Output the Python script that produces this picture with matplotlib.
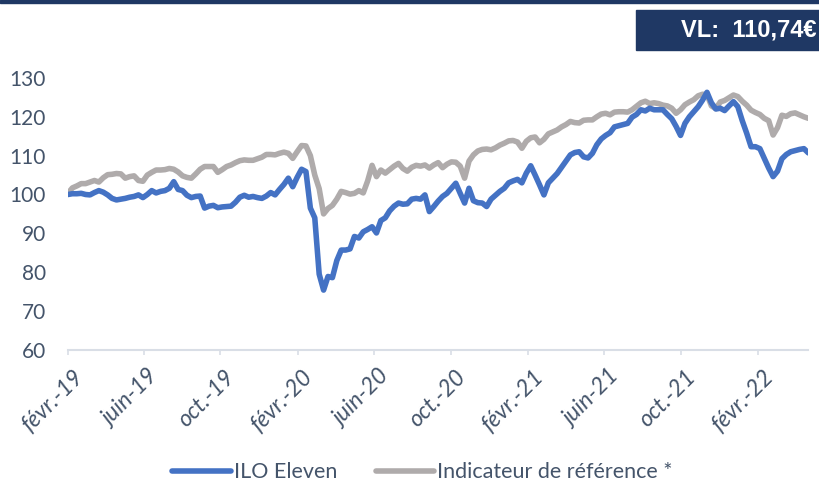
import numpy as np
import pandas as pd
import matplotlib
matplotlib.use("Agg")
import matplotlib.pyplot as plt
import matplotlib.transforms as mtransforms

plt.rcParams['font.family'] = ['Lato', 'DejaVu Sans']

# weekly NAV (base 100)
dates = pd.date_range("2019-02-01", periods=169, freq="7D")

ilo_eleven = [
    100.0, 100.2, 100.2, 100.3, 100.0, 99.9, 100.5, 101.0, 100.6, 99.9,
    99.0, 98.6, 98.8, 99.0, 99.3, 99.5, 99.9, 99.2, 100.0, 101.0,
    100.4, 100.8, 101.0, 101.6, 103.3, 101.3, 101.0, 99.8, 99.2, 99.5,
    99.6, 96.5, 97.0, 97.2, 96.6, 96.8, 96.9, 97.0, 98.0, 99.3,
    99.8, 99.3, 99.5, 99.2, 99.0, 99.6, 100.5, 99.9, 101.3, 102.6,
    104.2, 102.0, 104.4, 106.5, 105.9, 96.5, 94.0, 79.5, 75.4, 78.9,
    78.6, 83.0, 85.7, 85.7, 86.0, 89.2, 88.8, 90.4, 91.0, 91.7,
    90.1, 93.3, 94.0, 95.8, 97.0, 97.8, 97.5, 97.6, 98.8, 99.0,
    98.8, 99.9, 95.6, 96.9, 98.3, 99.5, 100.3, 101.6, 102.9, 100.3,
    97.8, 101.6, 98.4, 97.9, 97.8, 96.9, 98.8, 99.8, 100.8, 101.6,
    103.0, 103.5, 103.9, 103.0, 105.5, 107.4, 105.0, 102.5, 99.9, 103.0,
    104.2, 105.4, 107.0, 108.6, 110.2, 110.8, 111.0, 109.7, 109.4, 110.6,
    112.8, 114.3, 115.2, 115.9, 117.4, 117.7, 118.0, 118.3, 119.9, 120.6,
    121.8, 121.5, 122.2, 121.8, 121.8, 121.8, 120.6, 119.5, 117.5, 115.2,
    118.3, 120.0, 121.3, 122.6, 124.3, 126.3, 123.6, 122.0, 122.2, 121.6,
    122.8, 123.9, 122.6, 119.0, 115.8, 112.3, 112.3, 111.8, 109.3, 106.8,
    104.6, 106.0, 109.2, 110.3, 111.0, 111.3, 111.6, 111.8, 110.7,
]

indicateur = [
    100.3, 101.7, 102.2, 102.8, 102.8, 103.2, 103.6, 103.2, 104.3, 105.1,
    105.2, 105.4, 105.3, 104.2, 104.6, 104.8, 103.6, 103.4, 105.0, 105.7,
    106.3, 106.3, 106.4, 106.7, 106.5, 105.8, 104.8, 104.4, 104.2, 105.3,
    106.5, 107.2, 107.2, 107.2, 105.7, 106.4, 107.2, 107.6, 108.2, 108.7,
    108.9, 108.8, 108.8, 109.2, 109.6, 110.3, 110.3, 110.2, 110.6, 110.9,
    110.6, 109.3, 111.0, 112.6, 112.5, 110.0, 105.0, 101.5, 95.0, 96.4,
    97.2, 98.8, 100.8, 100.5, 100.1, 100.3, 101.0, 100.4, 103.5, 107.5,
    104.6, 106.3, 105.5, 106.4, 107.3, 108.0, 106.7, 106.0, 107.0, 107.5,
    107.3, 107.6, 106.8, 107.6, 108.2, 106.9, 107.8, 108.4, 108.3, 107.3,
    104.2, 108.6, 110.2, 111.2, 111.6, 111.7, 111.5, 112.0, 112.7, 113.2,
    113.8, 113.9, 113.5, 111.9, 113.7, 114.6, 114.8, 113.3, 114.2, 115.6,
    116.1, 116.6, 117.4, 118.0, 118.8, 118.5, 118.4, 119.1, 119.2, 119.2,
    120.0, 120.7, 120.9, 120.5, 121.2, 121.3, 121.3, 121.2, 121.8, 122.7,
    123.6, 124.0, 123.4, 123.6, 123.4, 123.0, 122.8, 122.2, 120.9, 121.8,
    123.1, 123.8, 124.4, 125.4, 125.8, 125.7, 122.8, 122.1, 123.8, 124.2,
    124.9, 125.6, 125.2, 124.0, 123.0, 121.7, 121.1, 120.6, 119.6, 119.0,
    115.3, 117.2, 120.4, 120.1, 120.8, 121.0, 120.5, 120.0, 119.6,
]

tick_dates = pd.date_range("2019-02-01", "2022-02-01", freq="4MS")
mois = {2: "févr.", 6: "juin", 10: "oct."}
tick_labels = [f"{mois[d.month]}-{d.strftime('%y')}" for d in tick_dates]

vl_text = "VL:  110,74€"

navy = "#1F3864"
label_col = "#44546A"

fig = plt.figure(figsize=(8.19, 4.84), dpi=100)
ax = fig.add_axes([0.083, 0.277, 0.904, 0.562])

ax.plot(dates, ilo_eleven, color="#4472C4", lw=4.0, label="ILO Eleven",
        solid_capstyle="round", zorder=3)
ax.plot(dates, indicateur, color="#AFABAB", lw=4.0, label="Indicateur de référence *",
        solid_capstyle="round", zorder=2)

ax.set_ylim(60, 130)
ax.set_yticks(range(60, 131, 10))
ax.set_xlim(dates[0], dates[-1])
ax.set_xticks(tick_dates)
ax.set_xticklabels(tick_labels, rotation=45, ha="right", rotation_mode="anchor",
                   fontstyle="italic", fontsize=16.5, color=label_col)
ax.tick_params(axis="y", length=0, labelsize=15, labelcolor=label_col, pad=16)
ax.tick_params(axis="x", length=3.6, width=1.2, color="#D9DEE6", pad=8)

# nudge rotated labels a few pixels right, like the original
shift = mtransforms.ScaledTranslation(4 / 100, 0, fig.dpi_scale_trans)
for lab in ax.get_xticklabels():
    lab.set_transform(lab.get_transform() + shift)

for side in ["top", "right", "left"]:
    ax.spines[side].set_visible(False)
ax.spines["bottom"].set_color("#D9DEE6")
ax.spines["bottom"].set_linewidth(1.5)

# top band and NAV box
fig.patches.append(plt.Rectangle((0, 0.993), 1, 0.007, transform=fig.transFigure,
                                 color=navy, zorder=0))
fig.patches.append(plt.Rectangle((0.776, 0.897), 0.23, 0.082, transform=fig.transFigure,
                                 color=navy, zorder=0))
fig.text(0.997, 0.938, vl_text, ha="right", va="center", color="white",
         fontsize=17, fontweight="bold", family=["Liberation Sans Narrow", "Liberation Sans"])

fig.legend(loc="center", bbox_to_anchor=(0.516, 0.024), ncol=2, frameon=False,
           fontsize=15.5, labelcolor=label_col, handlelength=2.7, columnspacing=1.8,
           handletextpad=0.15)

fig.savefig("out.png", dpi=100)
